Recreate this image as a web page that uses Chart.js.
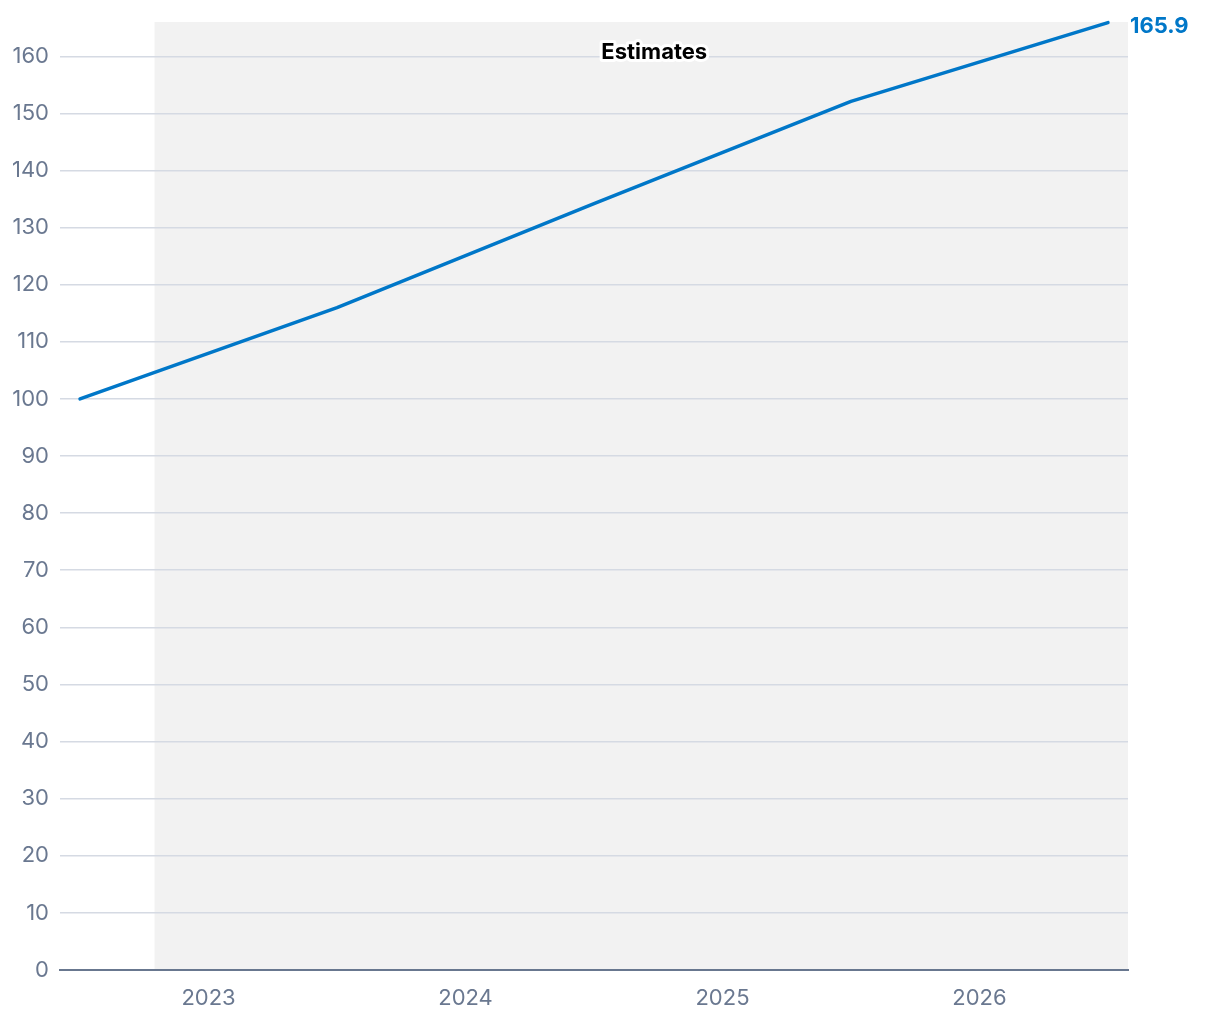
<!DOCTYPE html>
<html>
<head>
<meta charset="utf-8">
<script src="https://cdn.jsdelivr.net/npm/chart.js@4"></script>
<style>
  body { margin: 0; background: #fff; }
  #wrap { width: 1220px; height: 1020px; }
</style>
</head>
<body>
<div id="wrap"><canvas id="myChart"></canvas></div>
<script>
// datos del grafico
const anios = [2022.5, 2023.5, 2024.5, 2025.5, 2026.5]; // posicion de cada punto (mitad de año)
const valores = [100, 116.0, 134.2, 152.1, 165.9];
const etiquetasX = ['2023', '2024', '2025', '2026'];
const ticksX = [2023, 2024, 2025, 2026];
const inicioEstimado = 2022.79; // desde aqui empieza la zona sombreada
const textoEstimado = 'Estimates';

const azul = '#0077c8';
const grisTexto = '#6a7890';

// zona sombreada de estimaciones
const sombraPlugin = {
  id: 'sombra',
  beforeDraw(chart) {
    const { ctx, chartArea, scales } = chart;
    const x0 = scales.x.getPixelForValue(inicioEstimado);
    ctx.save();
    ctx.fillStyle = '#f2f2f2';
    ctx.fillRect(x0, chartArea.top, chartArea.right - x0, chartArea.bottom - chartArea.top);
    ctx.restore();
  },
  afterDatasetsDraw(chart) {
    const { ctx, chartArea, scales } = chart;
    const x0 = scales.x.getPixelForValue(inicioEstimado);
    ctx.save();
    // texto "Estimates" con borde blanco
    ctx.font = 'bold 22px Inter';
    ctx.textAlign = 'center';
    ctx.textBaseline = 'middle';
    ctx.lineJoin = 'round';
    ctx.strokeStyle = '#fff';
    ctx.lineWidth = 6;
    const cx = (x0 + chartArea.right) / 2 + 13;
    ctx.strokeText(textoEstimado, cx, chartArea.top + 30);
    ctx.fillStyle = '#000';
    ctx.fillText(textoEstimado, cx, chartArea.top + 30);

    // valor final de la serie
    const meta = chart.getDatasetMeta(0);
    const ultimo = meta.data[meta.data.length - 1];
    ctx.font = 'bold 22px Inter';
    ctx.textAlign = 'left';
    ctx.fillStyle = azul;
    ctx.fillText(valores[valores.length - 1].toFixed(1), ultimo.x + 22, ultimo.y + 4);
    ctx.restore();
  }
};

const config = {
  type: 'line',
  data: {
    datasets: [{
      data: anios.map((a, i) => ({ x: a, y: valores[i] })),
      borderColor: azul,
      borderWidth: 3.5,
      borderCapStyle: 'round',
      borderJoinStyle: 'round',
      pointRadius: 0,
      tension: 0,
      clip: false
    }]
  },
  options: {
    responsive: true,
    maintainAspectRatio: false,
    animation: false,
    layout: { padding: { top: 22, right: 92, bottom: 0, left: 0 } },
    plugins: { legend: { display: false }, tooltip: { enabled: false } },
    scales: {
      x: {
        type: 'linear',
        min: 2022.422,
        max: 2026.578,
        afterBuildTicks(scale) {
          scale.ticks = ticksX.map(v => ({ value: v }));
        },
        afterFit(scale) { scale.height = 50; },
        grid: { display: false, drawTicks: false },
        border: { display: true, color: '#68778f', width: 2 },
        ticks: {
          padding: 15,
          color: grisTexto,
          font: { family: 'Inter', size: 22 },
          callback: (v) => etiquetasX[ticksX.indexOf(v)]
        }
      },
      y: {
        min: 0,
        max: 166,
        afterFit(scale) {
          scale.width = 60;
          scale.paddingTop = 0;
          scale.paddingBottom = 0;
        },
        grid: { color: '#d5dae3', lineWidth: 1.5, drawTicks: false },
        border: { display: false },
        ticks: {
          stepSize: 10,
          includeBounds: false,
          padding: 11,
          color: grisTexto,
          font: { family: 'Inter', size: 22 }
        }
      }
    }
  },
  plugins: [sombraPlugin]
};

new Chart(document.getElementById('myChart'), config);
</script>
</body>
</html>
